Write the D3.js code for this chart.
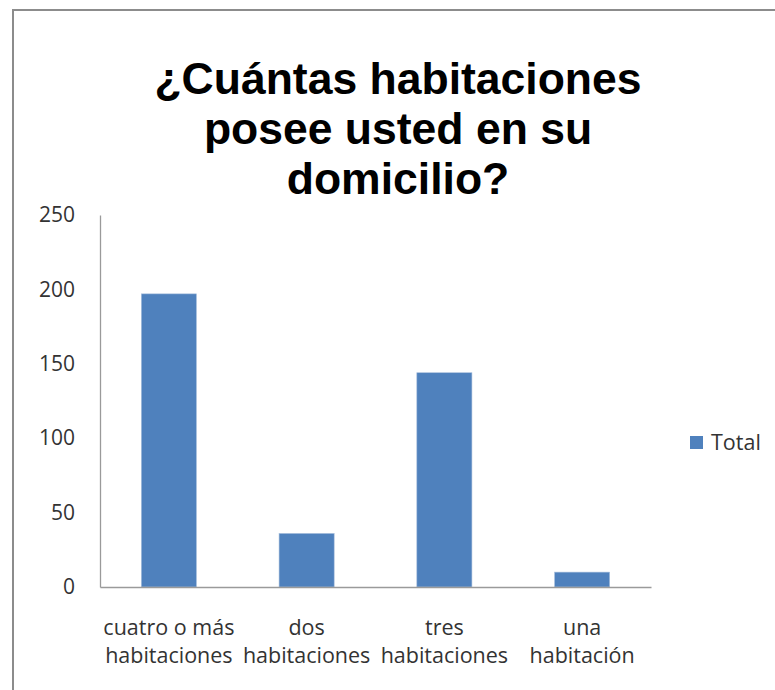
<!DOCTYPE html>
<html>
<head>
<meta charset="utf-8">
<script src="https://cdn.jsdelivr.net/npm/d3@7"></script>
<style>
  html, body { margin: 0; padding: 0; background: #fff; }
  svg { display: block; }
</style>
</head>
<body>
<svg id="chart" width="775" height="690"></svg>
<script>
// Survey answers: number of rooms in the household
const categories = [
  ["cuatro o más", "habitaciones"],
  ["dos", "habitaciones"],
  ["tres", "habitaciones"],
  ["una", "habitación"]
];
const totals = [197, 36, 144, 10];
const yTicks = [0, 50, 100, 150, 200, 250];
const titleLines = ["¿Cuántas habitaciones", "posee usted en su", "domicilio?"];
const seriesName = "Total";

const svg = d3.select("#chart");
const barColor = "#4F81BD";
const axisColor = "#9a9a9a";
const labelFont = "'Open Sans', sans-serif";

// chart frame
svg.append("rect")
  .attr("x", 13).attr("y", 10)
  .attr("width", 800).attr("height", 720)
  .attr("fill", "#fff")
  .attr("stroke", "#8c8c8c")
  .attr("stroke-width", 2);

// title
svg.append("g")
  .selectAll("text")
  .data(titleLines)
  .join("text")
  .attr("x", 398)
  .attr("y", (d, i) => 94 + i * 50)
  .attr("text-anchor", "middle")
  .attr("font-family", "'Liberation Sans', Arial, sans-serif")
  .attr("font-weight", "bold")
  .attr("font-size", 44.5)
  .attr("fill", "#000")
  .text(d => d);

const plot = { left: 100, right: 651, top: 215, bottom: 587 };

const x = d3.scaleBand()
  .domain(d3.range(categories.length))
  .range([plot.left, plot.right])
  .paddingInner(0.6)
  .paddingOuter(0.3);

const y = d3.scaleLinear()
  .domain([0, 250])
  .range([plot.bottom, plot.top]);

// bars
svg.append("g")
  .selectAll("rect")
  .data(totals)
  .join("rect")
  .attr("x", (d, i) => x(i))
  .attr("y", d => y(d))
  .attr("width", x.bandwidth())
  .attr("height", d => y(0) - y(d))
  .attr("fill", barColor)
  .attr("stroke", "#a8bfdc")
  .attr("stroke-width", 0.6);

// y axis
const yAxis = svg.append("g")
  .attr("transform", `translate(${plot.left},0)`)
  .call(d3.axisLeft(y).tickValues(yTicks).tickSize(0).tickPadding(25));
yAxis.select(".domain").attr("stroke", axisColor).attr("stroke-width", 1.3);
yAxis.selectAll("text")
  .attr("font-family", labelFont)
  .attr("font-size", 21)
  .attr("fill", "#333");

// x axis
const xAxis = svg.append("g")
  .attr("transform", `translate(0,${plot.bottom})`)
  .call(d3.axisBottom(x).tickSize(0).tickFormat(""));
xAxis.select(".domain").attr("stroke", axisColor).attr("stroke-width", 1.6);

// two-line category labels
const catLabels = svg.append("g")
  .selectAll("text")
  .data(categories)
  .join("text")
  .attr("text-anchor", "middle")
  .attr("font-family", labelFont)
  .attr("font-size", 21.5)
  .attr("fill", "#333");
catLabels.selectAll("tspan")
  .data((d, i) => d.map(line => ({ line, i })))
  .join("tspan")
  .attr("x", d => x(d.i) + x.bandwidth() / 2)
  .attr("y", (d, j) => 635 + j * 28)
  .text(d => d.line);

// legend
const legend = svg.append("g").attr("transform", "translate(690,436)");
legend.append("rect")
  .attr("width", 13).attr("height", 13)
  .attr("fill", barColor);
legend.append("text")
  .attr("x", 21).attr("y", 6.5)
  .attr("dy", "0.35em")
  .attr("font-family", labelFont)
  .attr("font-size", 21.5)
  .attr("fill", "#333")
  .text(seriesName);
</script>
</body>
</html>
